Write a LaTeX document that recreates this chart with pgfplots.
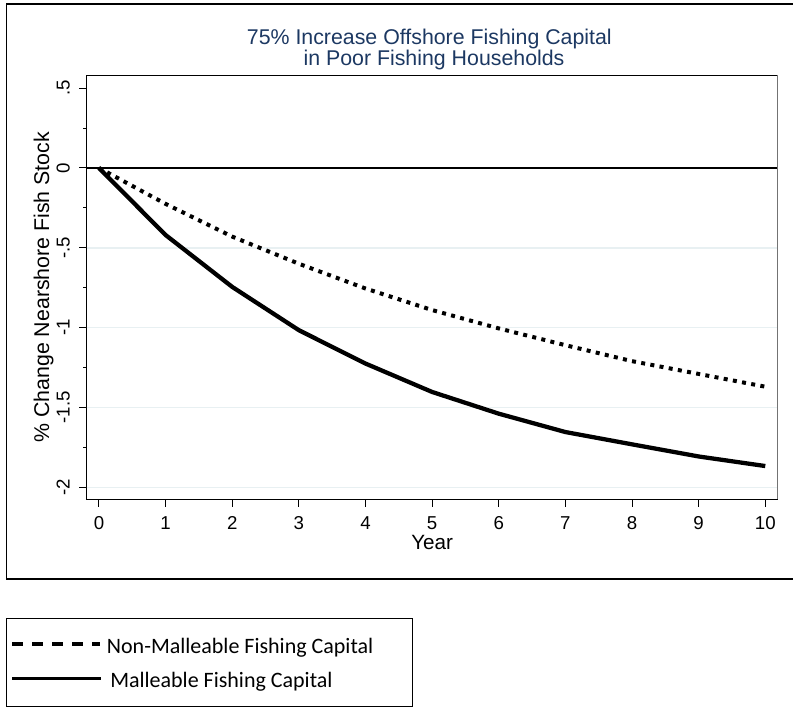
\documentclass[border=0pt]{standalone}
\usepackage{pgfplots}
\pgfplotsset{compat=1.18}
\usepackage{pgfplotstable}
\usepackage{fontspec}
\setmainfont{Liberation Sans}
\newfontfamily\legfont{Carlito}
\definecolor{titleblue}{RGB}{28,56,98}
\definecolor{gridc}{RGB}{232,240,242}

\pgfplotstableread{
year non mal
0 0 0
1 -0.225 -0.42
2 -0.43 -0.745
3 -0.60 -1.016
4 -0.755 -1.225
5 -0.89 -1.403
6 -1.005 -1.539
7 -1.11 -1.654
8 -1.21 -1.731
9 -1.29 -1.807
10 -1.37 -1.867
}\datatab

\begin{document}
\begin{tikzpicture}
\useasboundingbox (0,0) rectangle (594.75pt,531.75pt);
% outer graph region frame
\draw[line width=0.9pt] (596pt,528.75pt) -- (5pt,528.75pt) -- (5pt,97.5pt) -- (596pt,97.5pt);
% title
\node[anchor=base, inner sep=0, text=titleblue, font=\fontsize{16}{19}\selectfont] at (322pt,498.5pt) {75\% Increase Offshore Fishing Capital};
\node[anchor=base, inner sep=0, text=titleblue, font=\fontsize{16}{19}\selectfont] at (325.5pt,482.5pt) {in Poor Fishing Households};
\begin{axis}[
  at={(65pt,157.3pt)}, anchor=south west,
  scale only axis, width=518.25pt, height=318pt,
  xmin=-0.1846, xmax=10.186, ymin=-2.075, ymax=0.5806,
  xtick={0,1,2,3,4,5,6,7,8,9,10},
  ytick={-2,-1.5,-1,-0.5,0,0.5},
  yticklabels={-2,-1.5,-1,-.5,0,.5},
  minor y tick num=1,
  tick pos=left,
  tick align=outside,
  major tick length=5.5pt,
  minor tick length=2.5pt,
  tick style={black, line width=0.75pt},
  axis line style={black, line width=0.9pt},
  /pgf/number format/assume math mode=true,
  xticklabel style={anchor=base, inner sep=0pt, font=\fontsize{14}{16}\selectfont},
  xticklabel shift=17pt,
  yticklabel style={rotate=90, anchor=south, inner sep=0pt, font=\fontsize{14}{16}\selectfont},
  yticklabel shift=7pt,
  xlabel={Year},
  xlabel style={at={(axis description cs:0.5,-0.1196)}, anchor=base, inner sep=0pt, font=\fontsize{15.5}{18}\selectfont},
  ylabel={\% Change Nearshore Fish Stock},
  ylabel style={at={(axis description cs:-0.0545,0.5)}, anchor=base, inner sep=0pt, font=\fontsize{16}{19}\selectfont},
  clip=false,
]
\pgfplotsinvokeforeach{-2,-1.5,-1,-0.5}{
  \draw[gridc, line width=1.1pt] ({rel axis cs:0,0} |- {axis cs:0,#1}) -- ({rel axis cs:1,0} |- {axis cs:0,#1});
}
\draw[black, line width=1.1pt] ({rel axis cs:0,0} |- {axis cs:0,0}) -- ({rel axis cs:1,0} |- {axis cs:0,0});
\draw[black!55, line width=0.9pt] (rel axis cs:1,0) -- (rel axis cs:1,1);
\addplot[black, line width=3pt, dash pattern=on 3pt off 4pt, line cap=butt] table[x=year, y=non] {\datatab};
\addplot[black, line width=3.2pt, line join=round] table[x=year, y=mal] {\datatab};
\end{axis}
% legend box
\draw[line width=0.9pt] (5pt,1.7pt) rectangle (309.2pt,67.7pt);
\draw[line width=2.4pt, dash pattern=on 8.5pt off 6.5pt] (9pt,48.75pt) -- (75pt,48.75pt);
\draw[line width=2.3pt] (9pt,23pt) -- (76pt,23pt);
\node[anchor=base west, inner sep=0, font=\legfont\fontsize{16.5}{19}\selectfont] at (80pt,41.8pt) {Non-Malleable Fishing Capital};
\node[anchor=base west, inner sep=0, font=\legfont\fontsize{16.5}{19}\selectfont] at (82.5pt,16pt) {Malleable Fishing Capital};
\end{tikzpicture}
\end{document}
